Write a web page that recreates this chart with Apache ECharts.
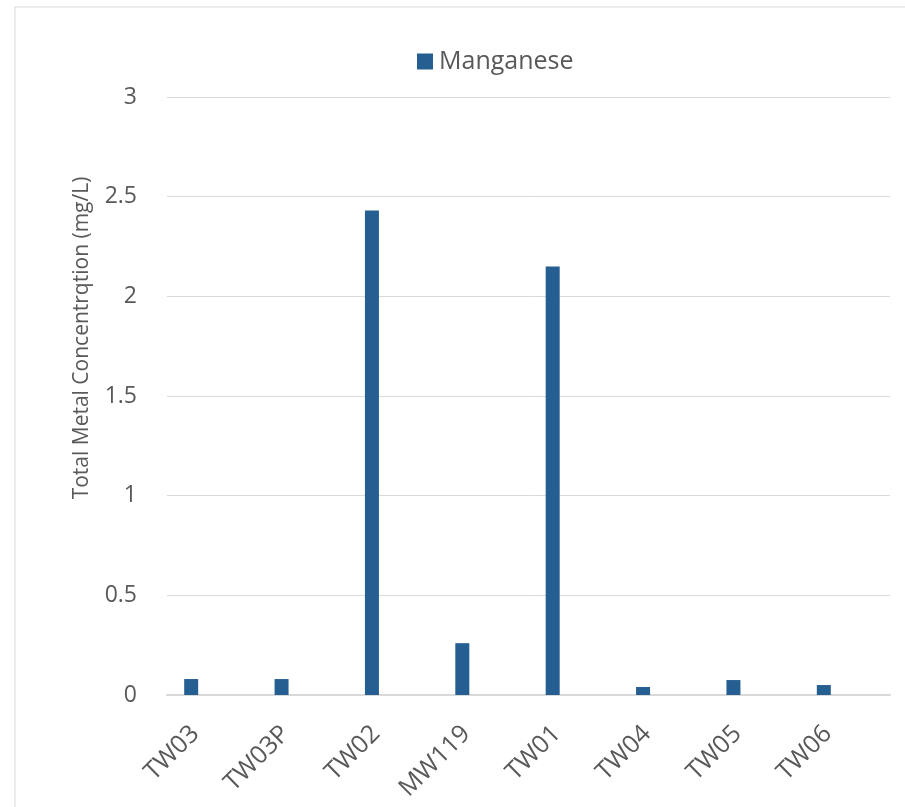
<!DOCTYPE html>
<html>
<head>
<meta charset="utf-8">
<style>
  html, body { margin: 0; padding: 0; background: #fff; }
  #container { width: 905px; height: 807px; }
</style>
<script src="https://cdn.jsdelivr.net/npm/echarts@6/dist/echarts.min.js"></script>
</head>
<body>
<div id="container"></div>
<script>
var dom = document.getElementById('container');
var myChart = echarts.init(dom, null, { renderer: 'canvas' });

// categories (sample wells)
var wells = ['TW03', 'TW03P', 'TW02', 'MW119', 'TW01', 'TW04', 'TW05', 'TW06'];
// total manganese, mg/L
var manganese = [0.08, 0.08, 2.43, 0.26, 2.15, 0.04, 0.075, 0.05];
var yTicks = { min: 0, max: 3, interval: 0.5 };

var textColor = '#595959';
var gridColor = '#d9d9d9';
var font = 'Open Sans';

// empty slots so the Manganese bar sits left in its cluster, like the original sheet
function emptySlot(n) {
    return { name: 'slot' + n, type: 'bar', barWidth: 14, data: [] };
}

var option = {
    animation: false,
    textStyle: { fontFamily: font },
    graphic: [
        {
            type: 'polyline',
            shape: { points: [[15, 807], [15, 7], [905, 7]] },
            style: { stroke: '#d9d9d9', lineWidth: 1, fill: null }
        }
    ],
    legend: {
        data: ['Manganese'],
        left: 412,
        top: 44,
        itemWidth: 16,
        itemHeight: 16,
        itemGap: 8,
        icon: 'rect',
        textStyle: { color: textColor, fontSize: 25, fontFamily: font, padding: [0, 0, 0, 1] }
    },
    grid: { left: 167, right: 15, top: 97, bottom: 112 },
    xAxis: {
        type: 'category',
        data: wells,
        axisLine: { lineStyle: { color: gridColor, width: 2 } },
        axisTick: { show: false },
        axisLabel: {
            rotate: 45,
            color: textColor,
            fontSize: 25,
            fontFamily: font,
            margin: 18,
            padding: [0, 24, 0, 0],
            interval: 0
        }
    },
    yAxis: {
        type: 'value',
        min: yTicks.min,
        max: yTicks.max,
        interval: yTicks.interval,
        name: 'Total Metal Concentrqtion (mg/L)',
        nameLocation: 'middle',
        nameGap: 74,
        nameTextStyle: { color: textColor, fontSize: 21, fontFamily: font, padding: [0, 0, 0, 116] },
        axisLine: { show: false },
        axisTick: { show: false },
        axisLabel: { color: textColor, fontSize: 23, fontFamily: font, margin: 30 },
        splitLine: { lineStyle: { color: gridColor, width: 1 } }
    },
    series: [
        {
            name: 'Manganese',
            type: 'bar',
            barWidth: 14,
            barGap: '0%',
            itemStyle: { color: '#255e91' },
            data: manganese
        },
        emptySlot(2),
        emptySlot(3),
        emptySlot(4)
    ]
};

myChart.setOption(option);
window.addEventListener('resize', myChart.resize);
</script>
</body>
</html>
